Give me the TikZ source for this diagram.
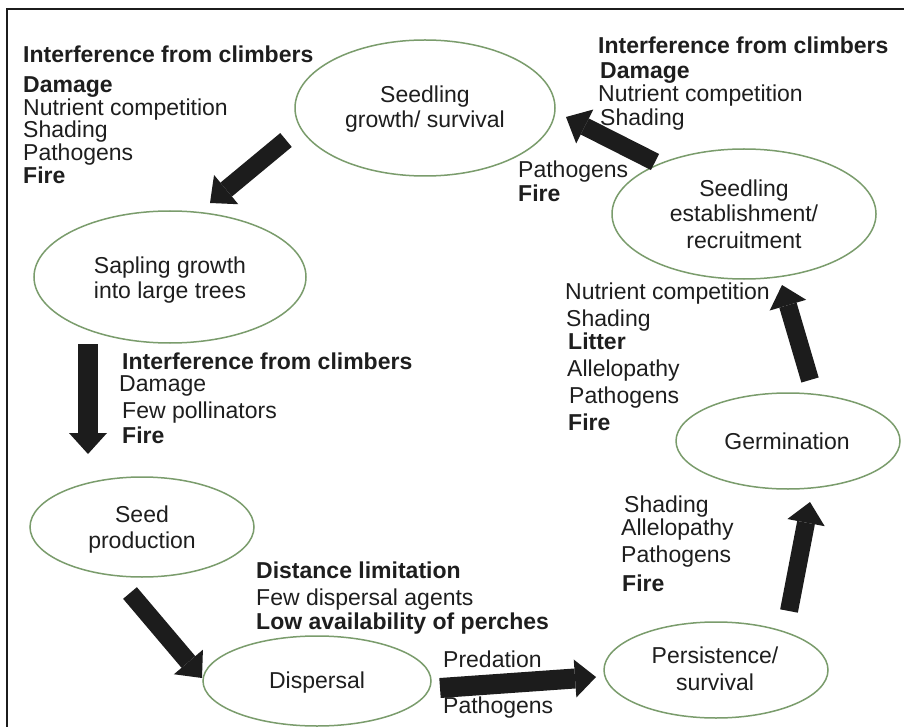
\documentclass[tikz,border=0pt]{standalone}
\usepackage{fontspec}
\setmainfont{Liberation Sans}
\usetikzlibrary{shapes.geometric,arrows.meta}
\definecolor{ringgreen}{RGB}{122,156,108}
\definecolor{arrowblk}{RGB}{28,28,28}
\definecolor{txtcol}{RGB}{30,30,30}
\tikzset{
  stage/.style={draw=ringgreen, line width=1.5pt, ellipse, inner sep=0pt},
  txt/.style={font=\fontsize{23}{25}\selectfont, text=txtcol, inner sep=0pt, anchor=base west},
  txtb/.style={font=\fontsize{23}{25}\selectfont\bfseries, text=txtcol, inner sep=0pt, anchor=base west},
  etxt/.style={font=\fontsize{23}{25}\selectfont, text=txtcol, inner sep=0pt, anchor=base},
  blockarrow/.style={draw=arrowblk, line width=18pt,
     -{Triangle[width=38pt,length=21pt,line width=0pt]}}
}
\begin{document}
\begin{tikzpicture}[x=1pt,y=-1pt]
\useasboundingbox (0,0) rectangle (904,727);
\fill[white] (0,0) rectangle (904,727);
% frame
\draw[line width=2.5pt, arrowblk] (7,727) -- (7,9) -- (904,9);

% stages
\node[stage, minimum width=260pt, minimum height=136pt] (sg) at (425,108) {};
\node[stage, minimum width=264pt, minimum height=130pt] (se) at (744,214) {};
\node[stage, minimum width=272pt, minimum height=132pt] (sa) at (170,277) {};
\node[stage, minimum width=224pt, minimum height=100pt] (sp) at (142,527) {};
\node[stage, minimum width=228pt, minimum height=90pt] (di) at (317,681) {};
\node[stage, minimum width=224pt, minimum height=96pt] (pe) at (716,670) {};
\node[stage, minimum width=224pt, minimum height=96pt] (ge) at (788,441) {};

% stage texts
\node[etxt] (sg1) at (425,103) {Seedling};
\node[etxt] (sg2) at (425,128) {growth/ survival};
\node[etxt] (se1) at (744,197) {Seedling};
\node[etxt] (se2) at (744,222) {establishment/};
\node[etxt] (se3) at (744,248) {recruitment};
\node[etxt] (sa1) at (170,273) {Sapling growth};
\node[etxt] (sa2) at (170,298) {into large trees};
\node[etxt] (sp1) at (142,522) {Seed};
\node[etxt] (sp2) at (142,548) {production};
\node[etxt] (di1) at (317,688) {Dispersal};
\node[etxt] (pe1) at (715,663) {Persistence/};
\node[etxt] (pe2) at (715,690) {survival};
\node[etxt] (ge1) at (787,449) {Germination};

% arrow end points
\coordinate (a1s) at (286,140); \coordinate (a1e) at (210,203);
\coordinate (a2s) at (655,162); \coordinate (a2e) at (566,117);
\coordinate (a3s) at (88,344);  \coordinate (a3e) at (88,454);
\coordinate (a4s) at (130,593); \coordinate (a4e) at (202,678);
\coordinate (a5s) at (440,688); \coordinate (a5e) at (596,677);
\coordinate (a6s) at (789,611); \coordinate (a6e) at (810,502);
\coordinate (a7s) at (810,380); \coordinate (a7e) at (782,285);
\draw[blockarrow] (a1s) -- (a1e);
\draw[blockarrow] (a2s) -- (a2e);
\draw[blockarrow, line width=20pt] (a3s) -- (a3e);
\draw[blockarrow] (a4s) -- (a4e);
\draw[blockarrow, line width=20pt] (a5s) -- (a5e);
\draw[blockarrow] (a6s) -- (a6e);
\draw[blockarrow] (a7s) -- (a7e);

% block 1 (top left)
\node[txtb] (b1a) at (23,63)  {Interference from climbers};
\node[txtb] (b1b) at (23,93)  {Damage};
\node[txt]  (b1c) at (23,116) {Nutrient competition};
\node[txt]  (b1d) at (23,138) {Shading};
\node[txt]  (b1e) at (23,161) {Pathogens};
\node[txtb] (b1f) at (23,184) {Fire};

% block 2 (top right)
\node[txtb] (b2a) at (598,54)  {Interference from climbers};
\node[txtb] (b2b) at (600,79)  {Damage};
\node[txt]  (b2c) at (598,102) {Nutrient competition};
\node[txt]  (b2d) at (600,126) {Shading};
\node[txt]  (b2e) at (518,178) {Pathogens};
\node[txtb] (b2f) at (518,202) {Fire};

% block 3 (below establishment)
\node[txt]  (b3a) at (565,299) {Nutrient competition};
\node[txt]  (b3b) at (566,326) {Shading};
\node[txtb] (b3c) at (568,349) {Litter};
\node[txt]  (b3d) at (567,376) {Allelopathy};
\node[txt]  (b3e) at (569,403) {Pathogens};
\node[txtb] (b3f) at (568,430) {Fire};

% block 4 (below germination)
\node[txt]  (b4a) at (624,512) {Shading};
\node[txt]  (b4b) at (621,535) {Allelopathy};
\node[txt]  (b4c) at (621,562) {Pathogens};
\node[txtb] (b4d) at (622,591) {Fire};

% block 5 (sapling to seed)
\node[txtb] (b5a) at (122,369) {Interference from climbers};
\node[txt]  (b5b) at (119,391) {Damage};
\node[txt]  (b5c) at (122,418) {Few pollinators};
\node[txtb] (b5d) at (122,443) {Fire};

% block 6 (dispersal)
\node[txtb] (b6a) at (256,578) {Distance limitation};
\node[txt]  (b6b) at (256,605) {Few dispersal agents};
\node[txtb] (b6c) at (256,629) {Low availability of perches};

% block 7 (dispersal to persistence)
\node[txt]  (b7a) at (443,667) {Predation};
\node[txt]  (b7b) at (443,713) {Pathogens};
\end{tikzpicture}
\end{document}
